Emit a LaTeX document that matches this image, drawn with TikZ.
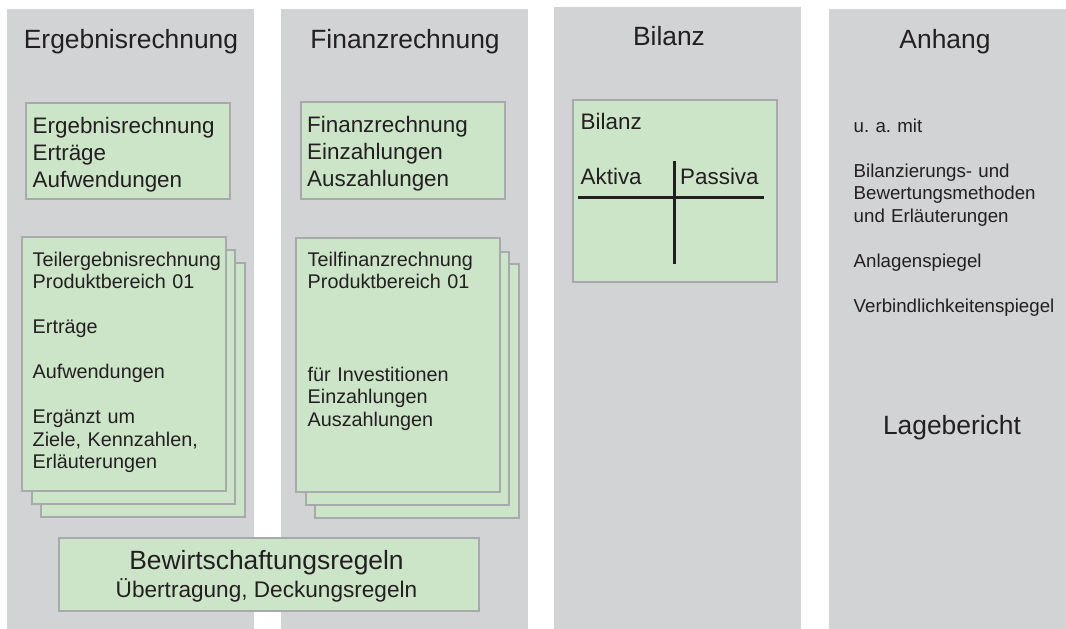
\documentclass[tikz,border=0pt]{standalone}
\usepackage{fontspec}
\setmainfont{Liberation Sans}
\frenchspacing
\definecolor{colgray}{HTML}{D1D3D4}
\definecolor{boxgreen}{HTML}{CCE5C9}
\definecolor{boxline}{HTML}{A7A9AC}
\definecolor{ink}{HTML}{231F20}
\tikzset{
  column/.style={fill=colgray},
  greenbox/.style={fill=boxgreen, draw=boxline, line width=1.6pt},
  coltitle/.style={font=\fontsize{26.4}{30}\selectfont, text=ink, inner sep=0pt, anchor=base},
  boxtext/.style={font=\fontsize{22.4}{27}\selectfont, text=ink, inner sep=0pt, anchor=base west, text width=195pt, align=left},
  parttext/.style={font=\fontsize{19.8}{22.5}\selectfont, text=ink, inner sep=0pt, anchor=base west, text width=190pt, align=left},
  notetext/.style={font=\fontsize{18.7}{22.5}\selectfont, text=ink, inner sep=0pt, anchor=base west, text width=210pt, align=left}
}
\begin{document}
\begin{tikzpicture}[x=1pt,y=-1pt]
\useasboundingbox (0,0) rectangle (1066,629);

\fill [column] (7,9) rectangle (254,629);
\fill [column] (281,9) rectangle (528,629);
\fill [column] (554,7) rectangle (801,629);
\fill [column] (829,9) rectangle (1066,629);

\node [coltitle] (e0) at (131,48) {Ergebnisrechnung};
\node [coltitle] (f0) at (405,48) {Finanzrechnung};
\node [coltitle] (b0) at (669,45) {Bilanz};
\node [coltitle] (a0) at (945,48) {Anhang};

\draw [greenbox] (26,103) rectangle (230,199);
\node [boxtext] (e1) at (32.5,133) {Ergebnisrechnung\\Erträge\\Aufwendungen};
\draw [greenbox] (301,102) rectangle (505,199);
\node [boxtext] (f1) at (307,132) {Finanzrechnung\\Einzahlungen\\Auszahlungen};

\draw [greenbox] (41,263) rectangle (245,517);
\draw [greenbox] (32,250) rectangle (235,504);
\draw [greenbox] (22,237) rectangle (226,491);
\node [parttext] (e2) at (32.5,266) {Teilergebnisrechnung\\Produktbereich 01};
\node [parttext] (e3) at (32.5,333.5) {Erträge};
\node [parttext] (e4) at (32.5,378.5) {Aufwendungen};
\node [parttext] (e5) at (32.5,423.5) {Ergänzt um\\Ziele, Kennzahlen,\\Erläuterungen};

\draw [greenbox] (315,264) rectangle (519,518);
\draw [greenbox] (306,252) rectangle (509,505);
\draw [greenbox] (296,238) rectangle (500,492);
\node [parttext] (f2) at (307.5,266) {Teilfinanzrechnung\\Produktbereich 01};
\node [parttext] (f3) at (307.5,381) {für Investitionen\\Einzahlungen\\Auszahlungen};

\draw [greenbox] (573,100) rectangle (777,282);
\node [boxtext] (b1) at (580.5,129) {Bilanz};
\node [boxtext] (b2) at (580.5,184) {Aktiva};
\node [boxtext] (b3) at (680,184) {Passiva};
\draw [ink, line width=3pt] (578,197) -- (764,197);
\draw [ink, line width=3pt] (674,161) -- (674,264);

\node [notetext] (a1) at (853.5,132) {u. a. mit};
\node [notetext] (a2) at (853.5,177) {Bilanzierungs- und\\Bewertungsmethoden\\und Erläuterungen};
\node [notetext] (a3) at (853.5,267) {Anlagenspiegel};
\node [notetext] (a4) at (853.5,312) {Verbindlichkeitenspiegel};
\node [coltitle] (a5) at (952,434) {Lagebericht};

\draw [greenbox] (59,538) rectangle (479,611);
\node [coltitle] (w1) at (266.5,569) {Bewirtschaftungsregeln};
\node [coltitle, font=\fontsize{22.6}{27}\selectfont] (w2) at (266.5,597) {Übertragung, Deckungsregeln};
\end{tikzpicture}
\end{document}
